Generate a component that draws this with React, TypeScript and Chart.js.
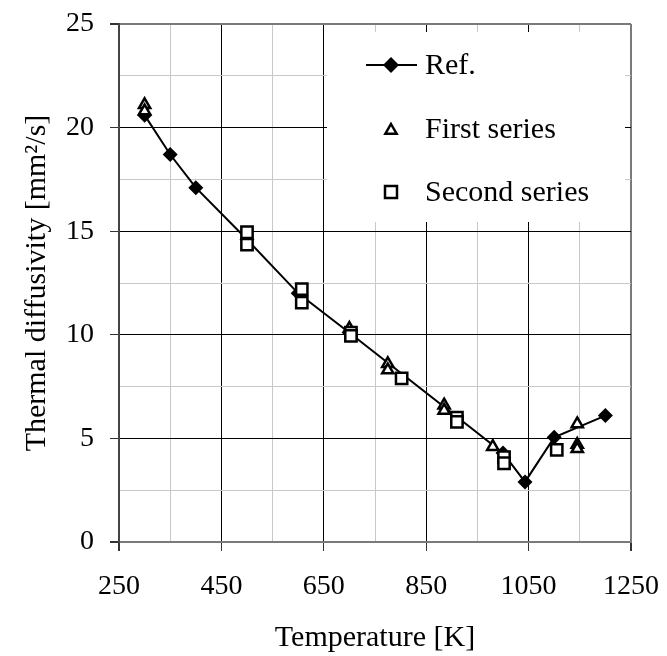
import React, { useEffect, useRef } from "react";
import { Chart, registerables } from "chart.js";

Chart.register(...registerables);

// Reference curve
const refT = [300, 350, 400, 500, 600, 700, 1000, 1043, 1100, 1200];
const refD = [20.6, 18.7, 17.1, 14.6, 12.0, 10.1, 4.3, 2.9, 5.05, 6.1];

// First series (triangles)
const firstT = [300, 300, 700, 775, 775, 885, 885, 980, 1145, 1145, 1145];
const firstD = [21.1, 20.8, 10.3, 8.6, 8.3, 6.6, 6.35, 4.6, 5.7, 4.7, 4.5];

// Second series (squares)
const secondT = [500, 500, 607, 607, 703, 703, 802, 910, 910, 1002, 1002, 1105];
const secondD = [14.95, 14.35, 12.2, 11.55, 10.1, 9.95, 7.9, 6.0, 5.8, 4.1, 3.8, 4.45];

// Axes
const xTicks = [250, 350, 450, 550, 650, 750, 850, 950, 1050, 1150, 1250];
const xMajor = [250, 450, 650, 850, 1050, 1250];
const yTicks = [0, 2.5, 5, 7.5, 10, 12.5, 15, 17.5, 20, 22.5, 25];
const yMajor = [0, 5, 10, 15, 20, 25];

const xTitle = "Temperature [K]";
const yTitle = "Thermal diffusivity [mm\u00B2/s]";
const legendLabels = ["Ref.", "First series", "Second series"];

const FONT = "'Liberation Serif', 'Times New Roman', serif";

function pts(xs: number[], ys: number[]) {
  return xs.map((x, i) => ({ x, y: ys[i] }));
}

const legendPlugin = {
  id: "insideLegend",
  beforeDatasetsDraw(chart: any) {
    const { ctx, chartArea } = chart;
    ctx.save();
    // white box covering grid
    const bx = chartArea.left + 208;
    const by = chartArea.top + 8;
    const bw = 298;
    const bh = 190;
    ctx.fillStyle = "#ffffff";
    ctx.fillRect(bx, by, bw, bh);

    const mx = 391;
    const tx = 425;
    const rows = [65, 129, 192];
    ctx.font = "30px " + FONT;
    ctx.fillStyle = "#000";
    ctx.textBaseline = "middle";
    ctx.textAlign = "left";

    // Ref: line + diamond
    ctx.strokeStyle = "#000";
    ctx.lineWidth = 2;
    ctx.beginPath();
    ctx.moveTo(366, rows[0]);
    ctx.lineTo(417, rows[0]);
    ctx.stroke();
    ctx.beginPath();
    const r = 8;
    ctx.moveTo(mx, rows[0] - r);
    ctx.lineTo(mx + r, rows[0]);
    ctx.lineTo(mx, rows[0] + r);
    ctx.lineTo(mx - r, rows[0]);
    ctx.closePath();
    ctx.fill();

    // triangle
    ctx.lineWidth = 2.5;
    ctx.beginPath();
    const tr = 6.5;
    const cy = rows[1] + 1.5;
    ctx.moveTo(mx, cy - tr);
    ctx.lineTo(mx + tr * 0.866, cy + tr / 2);
    ctx.lineTo(mx - tr * 0.866, cy + tr / 2);
    ctx.closePath();
    ctx.stroke();

    // square
    ctx.strokeRect(mx - 6, rows[2] - 6, 12, 12);

    rows.forEach((y, i) => ctx.fillText(legendLabels[i], tx, y + 1));
    ctx.restore();
  },
};

export default function App() {
  const ref = useRef<HTMLCanvasElement | null>(null);

  useEffect(() => {
    if (!ref.current) return;
    const isMajorX = (v: number) => xMajor.includes(v);
    const isMajorY = (v: number) => yMajor.includes(v);
    const edgeGray = "#7a7a7a";

    const chart = new Chart(ref.current, {
      type: "scatter",
      data: {
        datasets: [
          {
            label: legendLabels[0],
            data: pts(refT, refD),
            showLine: true,
            borderColor: "#000",
            borderWidth: 2,
            pointStyle: "rectRot",
            pointRadius: 7.5,
            pointBackgroundColor: "#000",
            pointBorderColor: "#000",
            pointBorderWidth: 0,
            order: 3,
          },
          {
            label: legendLabels[1],
            data: pts(firstT, firstD),
            showLine: false,
            pointStyle: "triangle",
            pointRadius: 6.5,
            pointBackgroundColor: "#fff",
            pointBorderColor: "#000",
            pointBorderWidth: 2.5,
            order: 2,
          },
          {
            label: legendLabels[2],
            data: pts(secondT, secondD),
            showLine: false,
            pointStyle: "rect",
            pointRadius: 8,
            pointBackgroundColor: "#fff",
            pointBorderColor: "#000",
            pointBorderWidth: 2.5,
            order: 1,
          },
        ],
      },
      options: {
        responsive: false,
        animation: false,
        events: [],
        layout: { padding: { left: 0, top: 24, right: 36, bottom: 0 } },
        plugins: { legend: { display: false }, tooltip: { enabled: false } },
        scales: {
          x: {
            type: "linear",
            min: 250,
            max: 1250,
            afterBuildTicks: (s: any) => {
              s.ticks = xTicks.map((v) => ({ value: v }));
            },
            afterFit: (s: any) => {
              s.height = 114;
              s.paddingLeft = 0;
              s.paddingRight = 0;
            },
            ticks: {
              autoSkip: false,
              maxRotation: 0,
              padding: 19,
              color: "#000",
              font: { family: FONT, size: 28 },
              callback: (v: any) => (isMajorX(Number(v)) ? String(v) : ""),
            },
            grid: {
              tickLength: 9,
              lineWidth: (c: any) => (c.tick && (c.tick.value === 250 || c.tick.value === 1250) ? 2 : 1),
              color: (c: any) => {
                const v = c.tick ? c.tick.value : 0;
                if (v === 250 || v === 1250) return edgeGray;
                return isMajorX(v) ? "#000" : "#c8c8c8";
              },
              tickColor: (c: any) => (c.tick && isMajorX(c.tick.value) ? "#333" : "rgba(0,0,0,0)"),
            },
            border: { color: edgeGray, width: 2 },
            title: {
              display: true,
              text: xTitle,
              color: "#000",
              font: { family: FONT, size: 30 },
              padding: { top: 0, bottom: 0 },
            },
          },
          y: {
            type: "linear",
            min: 0,
            max: 25,
            afterBuildTicks: (s: any) => {
              s.ticks = yTicks.map((v) => ({ value: v }));
            },
            afterFit: (s: any) => {
              s.width = 119;
              s.paddingTop = 0;
              s.paddingBottom = 0;
            },
            ticks: {
              autoSkip: false,
              padding: 16,
              color: "#000",
              font: { family: FONT, size: 28 },
              callback: (v: any) => (isMajorY(Number(v)) ? String(v) : ""),
            },
            grid: {
              tickLength: 9,
              lineWidth: (c: any) => (c.tick && (c.tick.value === 0 || c.tick.value === 25) ? 2 : 1),
              color: (c: any) => {
                const v = c.tick ? c.tick.value : 0;
                if (v === 0 || v === 25) return edgeGray;
                return isMajorY(v) ? "#000" : "#c8c8c8";
              },
              tickColor: (c: any) => (c.tick && isMajorY(c.tick.value) ? "#333" : "rgba(0,0,0,0)"),
            },
            border: { color: "#444", width: 2 },
            title: {
              display: true,
              text: yTitle,
              color: "#000",
              font: { family: FONT, size: 30 },
              padding: { top: 19, bottom: 0 },
            },
          },
        },
      },
      plugins: [legendPlugin],
    } as any);
    return () => chart.destroy();
  }, []);

  return (
    <div style={{ position: "absolute", left: 0, top: 0, width: 667, height: 656, background: "#fff" }}>
      <canvas ref={ref} width={667} height={656} style={{ display: "block" }} />
    </div>
  );
}
